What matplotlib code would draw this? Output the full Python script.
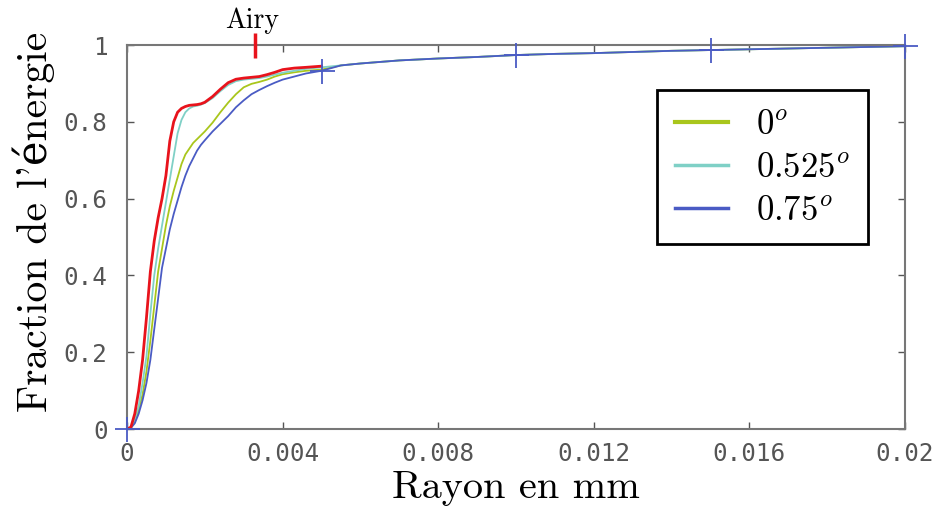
import matplotlib
matplotlib.use("Agg")
import matplotlib.pyplot as plt

# radius in mm
RADIUS = [0, .0001, .0002, .0003, .0004, .0005, .0006, .0007, .0008, .0009,
          .001, .0011, .0012, .0013, .0014, .0015, .0016, .0017, .0018, .0019,
          .002, .0022, .0024, .0026, .0028, .003, .0032, .0034, .0036, .0038,
          .004, .0043, .0046, .005,
          .0055, .006, .007, .008, .009, .01, .011, .012, .013, .014,
          .015, .016, .017, .018, .019, .02]

# common part beyond 0.005 mm
TAIL = [.947, .952, .960, .965, .969, .974, .977, .979, .982, .985,
        .987, .989, .991, .993, .995, .997]

ENERGY_0 = [0, .004, .02, .05, .09, .15, .23, .32, .41, .47,
            .53, .58, .62, .655, .69, .715, .73, .745, .755, .765,
            .775, .798, .825, .85, .872, .89, .899, .904, .91, .918,
            .924, .929, .933, .936] + TAIL
ENERGY_0525 = [0, .004, .025, .06, .12, .19, .30, .40, .47, .53,
               .59, .65, .71, .77, .805, .825, .835, .84, .842, .845,
               .849, .862, .88, .896, .906, .91, .912, .914, .918, .923,
               .928, .933, .938, .942] + TAIL
ENERGY_075 = [0, .003, .015, .04, .075, .12, .18, .26, .34, .42,
              .47, .52, .56, .595, .63, .66, .685, .705, .725, .74,
              .752, .775, .795, .815, .838, .856, .872, .883, .893, .902,
              .91, .918, .926, .933] + TAIL

# diffraction-limited reference (red), only up to 0.005 mm
N_REF = 34
ENERGY_REF = [0, .005, .04, .10, .18, .29, .41, .49, .55, .60,
              .66, .75, .80, .825, .835, .84, .843, .844, .845, .847,
              .851, .866, .885, .902, .911, .914, .916, .918, .923, .929,
              .936, .94, .942, .945]

AIRY_RADIUS = 0.0033
MARK_RADII = [0, .005, .01, .015, .02]

LABELS = [r"$0^o$", r"$0.525^o$", r"$0.75^o$"]
COLORS = ["#a9c61c", "#7fd0c6", "#4a5bc4"]

XTICKS = [0, .004, .008, .012, .016, .02]
XTICKLABELS = ["0", "0.004", "0.008", "0.012", "0.016", "0.02"]
YTICKS = [0, .2, .4, .6, .8, 1]
YTICKLABELS = ["0", "0.2", "0.4", "0.6", "0.8", "1"]

plt.rcParams["mathtext.fontset"] = "cm"
SERIF = ["cmr10", "DejaVu Serif"]
TICKFONT = ["DejaVu Sans Mono"]

fig = plt.figure(figsize=(9.36, 5.12), dpi=100)
ax = fig.add_axes([0.1357, 0.162, 0.8312, 0.750])

for y, c, lab in zip([ENERGY_0, ENERGY_0525, ENERGY_075], COLORS, LABELS):
    ax.plot(RADIUS, y, color=c, lw=1.3, label=lab)

ax.plot(RADIUS[:N_REF], ENERGY_REF, color="#e8131c", lw=2.0)

mark_idx = [RADIUS.index(r) for r in MARK_RADII]
ax.plot([RADIUS[i] for i in mark_idx], [ENERGY_075[i] for i in mark_idx],
        ls="none", marker="+", ms=18, mew=1.3, color="#4a5bc4",
        clip_on=False, zorder=5)

# Airy radius mark on the top edge
ax.plot([AIRY_RADIUS], [1.0], marker="|", ms=18, mew=2.5, color="#e8131c",
        clip_on=False, zorder=6)
ax.annotate("Airy", (AIRY_RADIUS, 1.0), xytext=(-2, 12),
            textcoords="offset points", ha="center", va="baseline",
            family=SERIF, fontsize=20)

ax.set_xlim(0, 0.02)
ax.set_ylim(0, 1)
ax.set_xticks(XTICKS)
ax.set_xticklabels(XTICKLABELS, family=TICKFONT, fontsize=17.5, color="#555")
ax.set_yticks(YTICKS)
ax.set_yticklabels(YTICKLABELS, family=TICKFONT, fontsize=17.5, color="#555")
ax.tick_params(direction="in", length=5, width=1, color="#555",
               top=True, right=True)
ax.tick_params(axis="x", pad=9)
ax.tick_params(axis="y", pad=14)
for s in ax.spines.values():
    s.set_color("#777")
    s.set_linewidth(1.5)

ax.set_xlabel("Rayon en mm", family=SERIF, fontsize=29, labelpad=3)
ax.set_ylabel("Fraction de l'énergie", family=SERIF, fontsize=30)
ax.yaxis.set_label_coords(-0.0925, 0.539)

leg = ax.legend(loc="upper right", bbox_to_anchor=(0.952, 0.883),
                borderaxespad=0, fontsize=25, handlelength=1.55,
                labelspacing=0.25, borderpad=0.5, fancybox=False,
                framealpha=1, edgecolor="black")
leg.get_frame().set_linewidth(2)
leg.legend_handles[0].set_linewidth(3)
leg.legend_handles[1].set_linewidth(2.5)
leg.legend_handles[2].set_linewidth(2.5)

fig.savefig("out.png", dpi=100)
